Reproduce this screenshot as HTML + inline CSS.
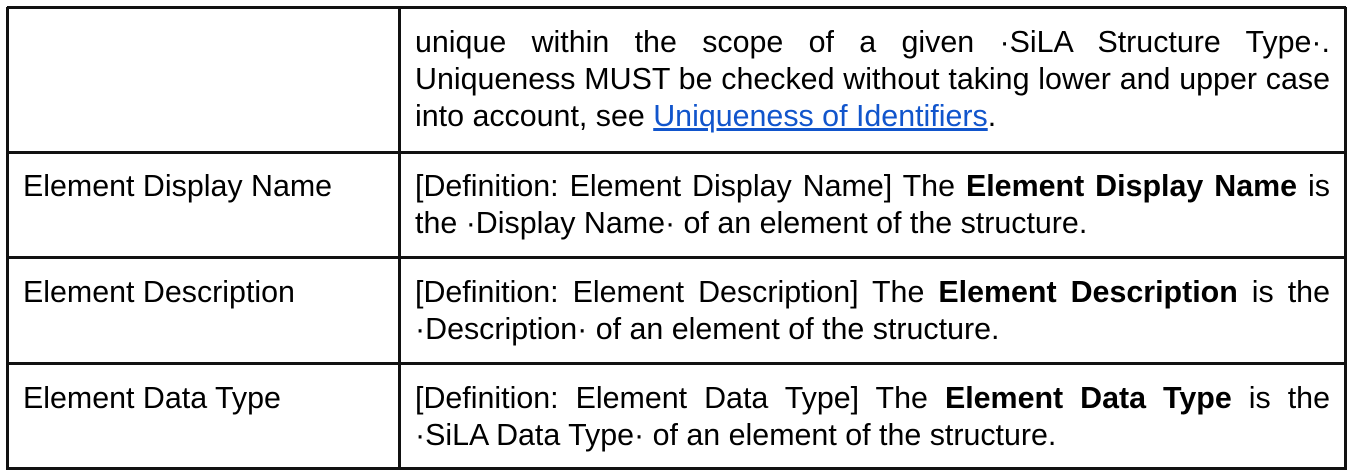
<!DOCTYPE html>
<html><head><meta charset="utf-8"><style>
html,body{margin:0;padding:0;background:#fff;width:1348px;height:470px;overflow:hidden}
body{font-family:"Liberation Sans",Arial,sans-serif;font-size:30.4px;color:#000;position:relative}
.h{position:absolute;left:7px;width:1339px;height:3px;background:#111}
.v{position:absolute;top:7px;height:463px;width:3px;background:#111}
.t{position:absolute;white-space:nowrap;line-height:37px}
.j{position:absolute;left:415px;width:915px;line-height:37px;text-align:justify;text-align-last:justify;white-space:nowrap}
.l{position:absolute;left:415px;line-height:37px;white-space:nowrap}
a{color:#1155cc;text-decoration:underline}
</style></head><body>
<div class="h" style="top:6px"></div>
<div class="h" style="top:151px"></div>
<div class="h" style="top:256px"></div>
<div class="h" style="top:362px"></div>
<div class="h" style="top:467px"></div>
<div class="v" style="left:6px"></div>
<div class="v" style="left:398px"></div>
<div class="v" style="left:1344px"></div>

<div class="j" style="top:24px">unique within the scope of a given ·SiLA Structure Type·.</div>
<div class="j" style="top:61px">Uniqueness MUST be checked without taking lower and upper case</div>
<div class="l" style="top:98px">into account, see <a>Uniqueness of Identifiers</a>.</div>

<div class="t" style="left:23px;top:168px">Element Display Name</div>
<div class="j" style="top:168px">[Definition: Element Display Name] The <b>Element Display Name</b> is</div>
<div class="l" style="top:205px">the ·Display Name· of an element of the structure.</div>

<div class="t" style="left:23px;top:274px">Element Description</div>
<div class="j" style="top:274px">[Definition: Element Description] The <b>Element Description</b> is the</div>
<div class="l" style="top:311px">·Description· of an element of the structure.</div>

<div class="t" style="left:23px;top:380px">Element Data Type</div>
<div class="j" style="top:380px">[Definition: Element Data Type] The <b>Element Data Type</b> is the</div>
<div class="l" style="top:417px">·SiLA Data Type· of an element of the structure.</div>
</body></html>
